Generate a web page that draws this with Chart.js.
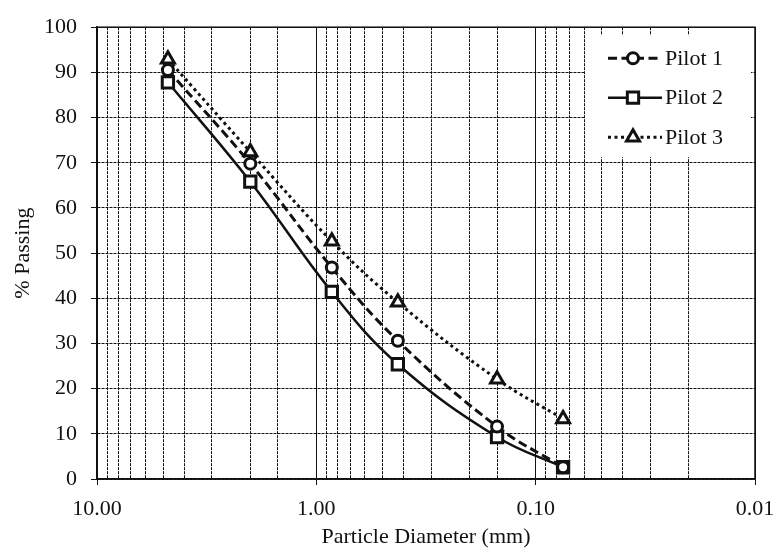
<!DOCTYPE html>
<html><head><meta charset="utf-8">
<script src="https://cdn.jsdelivr.net/npm/chart.js@4/dist/chart.umd.min.js"></script>
<style>html,body{margin:0;padding:0;background:#fff}#wrap{width:777px;height:550px}</style>
</head><body><div id="wrap"><canvas id="c" width="777" height="550"></canvas></div>
<script>
// ---- data ----
const diameters = [4.75, 2.0, 0.85, 0.425, 0.15, 0.075];
const pilot1 = [90.5, 69.8, 46.8, 30.6, 11.6, 2.6];
const pilot2 = [87.8, 65.8, 41.4, 25.4, 9.3, 2.6];
const pilot3 = [92.9, 72.4, 52.6, 39.1, 22.1, 13.3];
const seriesNames = ['Pilot 1', 'Pilot 2', 'Pilot 3'];
const xDecadeTicks = [10, 1, 0.1, 0.01];
const xMin = 0.01, xMax = 10;
const yMin = 0, yMax = 100, yStep = 10;
const xTitle = 'Particle Diameter (mm)';
const yTitle = '% Passing';

const FONT = "'Liberation Serif', 'Times New Roman', serif";
const INK = '#111111';
Chart.defaults.font.family = FONT;
Chart.defaults.font.size = 22;
Chart.defaults.color = INK;

const toPts = arr => diameters.map((d, i) => ({x: d, y: arr[i]}));
const isDecade = v => xDecadeTicks.some(d => Math.abs(Math.log10(v) - Math.log10(d)) < 1e-6);

const common = {borderColor: INK, pointBorderColor: INK, pointBackgroundColor: '#fff',
  fill: false, tension: 0.4, xAxisID: 'x', yAxisID: 'y', pointHoverRadius: 0};

const datasets = [
  Object.assign({}, common, {label: seriesNames[0], data: toPts(pilot1), borderWidth: 3, borderDash: [9, 4.5],
    pointStyle: 'circle', pointRadius: 5.5, pointBorderWidth: 3}),
  Object.assign({}, common, {label: seriesNames[1], data: toPts(pilot2), borderWidth: 2.5, borderDash: [],
    pointStyle: 'rect', pointRadius: 8, pointBorderWidth: 3}),
  Object.assign({}, common, {label: seriesNames[2], data: toPts(pilot3), borderWidth: 3, borderDash: [3, 3.5],
    pointStyle: 'triangle', pointRadius: 7.5, pointBorderWidth: 3}),
];

const boxPlugin = {
  id: 'box',
  beforeDatasetsDraw(chart) {
    const {ctx, chartArea: a} = chart;
    ctx.save();
    ctx.strokeStyle = INK; ctx.lineWidth = 1.5;
    ctx.strokeRect(a.left, a.top, a.right - a.left, a.bottom - a.top);
    // legend panel
    const boxL = a.right - 170, boxT = a.top + 8, boxW = 166, boxH = 122;
    ctx.fillStyle = '#fff';
    ctx.fillRect(boxL, boxT, boxW, boxH);
    chart.data.datasets.forEach((ds, i) => {
      const cy = boxT + 23 + i * 39.5;
      const x0 = boxL + 23, x1 = boxL + 77, mx = boxL + 48;
      ctx.strokeStyle = ds.borderColor; ctx.lineWidth = ds.borderWidth;
      ctx.setLineDash(ds.borderDash || []);
      ctx.beginPath(); ctx.moveTo(x0, cy); ctx.lineTo(x1, cy); ctx.stroke();
      ctx.setLineDash([]);
      ctx.fillStyle = '#fff'; ctx.strokeStyle = ds.pointBorderColor; ctx.lineWidth = ds.pointBorderWidth;
      Chart.helpers.drawPoint(ctx, {pointStyle: ds.pointStyle, radius: ds.pointRadius, rotation: 0,
        borderWidth: ds.pointBorderWidth}, mx, cy);
      ctx.fillStyle = INK; ctx.font = '22px ' + FONT; ctx.textBaseline = 'middle'; ctx.textAlign = 'left';
      ctx.fillText(ds.label, boxL + 80, cy + 1);
    });
    ctx.restore();
  }
};

new Chart(document.getElementById('c'), {
  type: 'line',
  data: {datasets},
  plugins: [boxPlugin],
  options: {
    responsive: false,
    animation: false,
    devicePixelRatio: 1,
    layout: {padding: {top: 22, right: 22, left: 0, bottom: 0}},
    plugins: {legend: {display: false}, tooltip: {enabled: false}},
    scales: {
      x: {
        type: 'logarithmic', position: 'bottom', reverse: true, min: xMin, max: xMax,
        afterBuildTicks: s => { s.ticks = s.ticks.filter(t => isDecade(t.value)); },
        afterFit: s => { s.height = 71; s.paddingLeft = 0; s.paddingRight = 0; },
        ticks: {autoSkip: false, maxRotation: 0, padding: 11, callback: v => Number(v).toFixed(2)},
        grid: {color: INK, lineWidth: 1, tickLength: 6, tickColor: INK, drawOnChartArea: true},
        border: {display: true, color: INK, width: 1.5},
        title: {display: true, text: xTitle, padding: {top: 0, bottom: 0}}
      },
      xm: {
        type: 'logarithmic', position: 'bottom', reverse: true, min: xMin, max: xMax,
        afterBuildTicks: s => { s.ticks = s.ticks.filter(t => !isDecade(t.value)); },
        afterFit: s => { s.height = 0; s.paddingLeft = 0; s.paddingRight = 0; },
        ticks: {display: false},
        grid: {color: INK, lineWidth: 1, drawTicks: false},
        border: {display: false, dash: [3, 1]}
      },
      y: {
        type: 'linear', position: 'left', min: yMin, max: yMax,
        afterFit: s => { s.width = 97; },
        ticks: {stepSize: yStep, padding: 14},
        grid: {color: INK, lineWidth: 1, tickLength: 6, tickColor: INK},
        border: {display: true, color: INK, width: 1.5, dash: [3, 1]},
        title: {display: true, text: yTitle, padding: {top: 10, bottom: 0}}
      }
    }
  }
});
</script></body></html>
